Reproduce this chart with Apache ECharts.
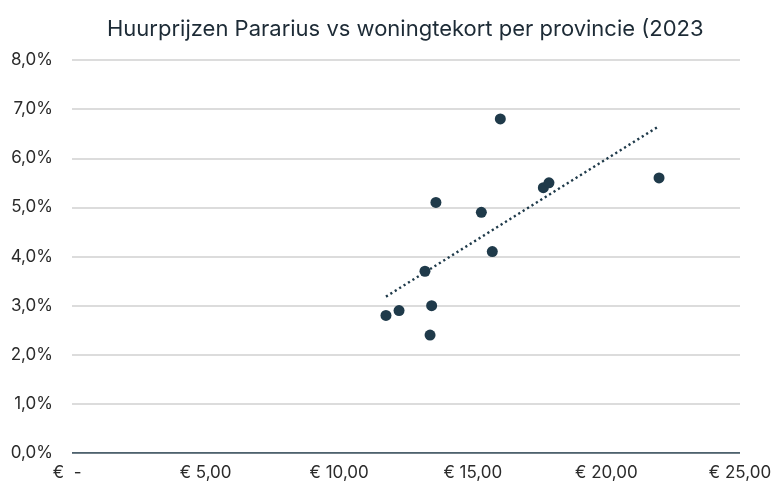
<!DOCTYPE html>
<html>
<head>
<meta charset="utf-8">
<script src="https://cdn.jsdelivr.net/npm/echarts@6/dist/echarts.min.js"></script>
<style>
  html, body { margin: 0; padding: 0; background: #fff; }
  #chart { width: 775px; height: 486px; }
</style>
</head>
<body>
<div id="chart"></div>
<script>
// gemiddelde huurprijs per m2 (Pararius) en woningtekort (%) per provincie
var huurprijs = [11.75, 12.24, 13.21, 13.46, 13.40, 13.62, 15.32, 15.73, 16.03, 17.64, 17.85, 21.97];
var tekort = [2.8, 2.9, 3.7, 3.0, 2.4, 5.1, 4.9, 4.1, 6.8, 5.4, 5.5, 5.6];
var xTicks = [0, 5, 10, 15, 20, 25];
var yTicks = [0, 1, 2, 3, 4, 5, 6, 7, 8];

(function () {
  var ink = '#1f3a4a';
  var text = '#2b2b2b';

  var points = huurprijs.map(function (x, i) { return [x, tekort[i]]; });

  // lineaire trendlijn (kleinste kwadraten), zoals Excel
  var n = huurprijs.length, mx = 0, my = 0;
  for (var i = 0; i < n; i++) { mx += huurprijs[i]; my += tekort[i]; }
  mx /= n; my /= n;
  var sxy = 0, sxx = 0;
  for (i = 0; i < n; i++) {
    sxy += (huurprijs[i] - mx) * (tekort[i] - my);
    sxx += (huurprijs[i] - mx) * (huurprijs[i] - mx);
  }
  var slope = sxy / sxx, icpt = my - slope * mx;
  var xmin = Math.min.apply(null, huurprijs), xmax = Math.max.apply(null, huurprijs);
  var trend = [[xmin, icpt + slope * xmin], [xmax, icpt + slope * xmax]];

  var chart = echarts.init(document.getElementById('chart'), null, { renderer: 'canvas' });
  chart.setOption({
    animation: false,
    textStyle: { fontFamily: 'Inter' },
    title: {
      text: 'Huurprijzen Pararius vs woningtekort per provincie (2023',
      left: 102,
      top: 13,
      textStyle: { fontFamily: 'Inter', fontSize: 22, fontWeight: 'normal', color: '#1d2b36' }
    },
    grid: { left: 72, right: 35, top: 60, bottom: 33 },
    xAxis: {
      type: 'value',
      min: xTicks[0],
      max: xTicks[xTicks.length - 1],
      interval: 5,
      splitLine: { show: false },
      axisTick: { show: false },
      axisLine: { show: false },
      axisLabel: {
        color: text,
        fontSize: 17,
        margin: 11,
        formatter: function (v) {
          if (v === 0) return '€  -  ';
          return '€ ' + v.toFixed(2).replace('.', ',');
        }
      }
    },
    yAxis: {
      type: 'value',
      min: yTicks[0],
      max: yTicks[yTicks.length - 1],
      interval: 1,
      splitLine: { lineStyle: { color: '#d0d0d0', width: 1.5 } },
      axisTick: { show: false },
      axisLine: { show: false },
      axisLabel: {
        color: text,
        fontSize: 17,
        margin: 19,
        formatter: function (v) { return v.toFixed(1).replace('.', ',') + '%'; }
      }
    },
    series: [
      {
        type: 'line',
        data: [[xTicks[0], 0], [xTicks[xTicks.length - 1], 0]],
        symbol: 'none',
        silent: true,
        lineStyle: { color: ink, width: 1.5 },
        z: 1
      },
      {
        type: 'line',
        data: trend,
        symbol: 'none',
        lineStyle: { color: ink, width: 2.4, type: [2.2, 3] },
        z: 2
      },
      {
        type: 'scatter',
        data: points,
        symbolSize: 11,
        itemStyle: { color: ink, opacity: 1 },
        z: 3
      }
    ]
  });
})();
</script>
</body>
</html>
